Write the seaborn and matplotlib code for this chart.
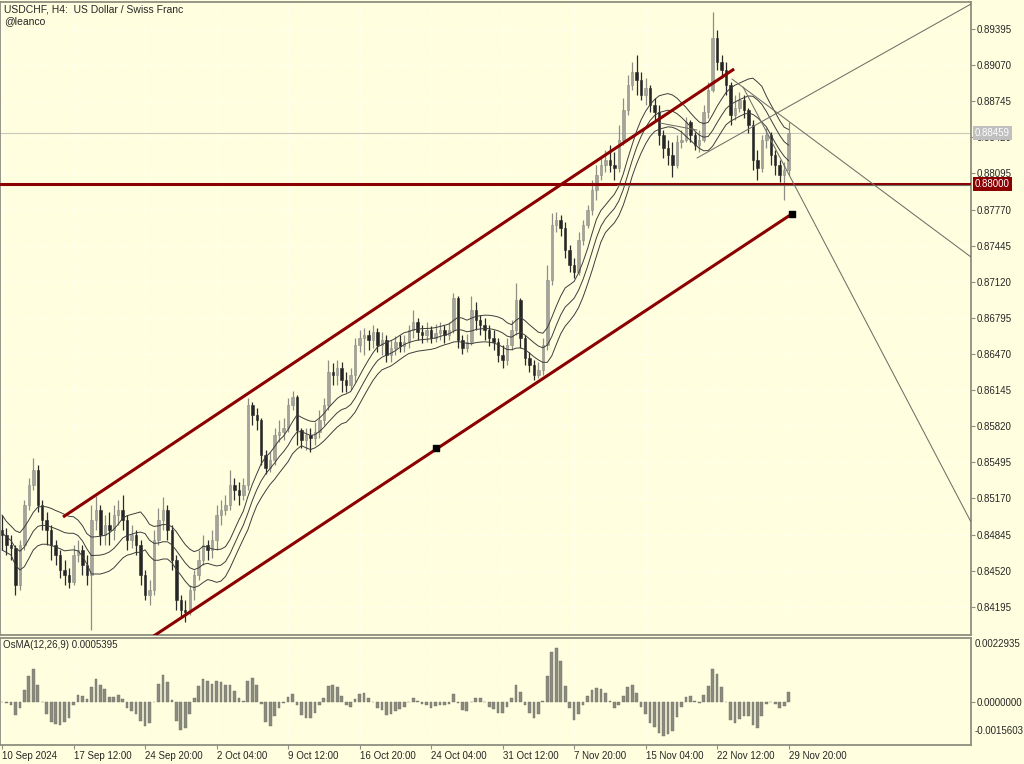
import numpy as np
import pandas as pd
import matplotlib
matplotlib.use("Agg")
import matplotlib.pyplot as plt
import seaborn as sns

# USDCHF H4, each bar below covers two H4 candles
first_open = 0.84886
close = [
    0.84841, 0.84751, 0.84724, 0.84391, 0.84751, 0.85111, 0.85291, 0.85426, 0.85111, 0.84976,
    0.84886, 0.84751, 0.84661, 0.84526, 0.84481, 0.84418, 0.84661, 0.84706, 0.84571, 0.84481,
    0.84976, 0.85066, 0.84841, 0.84931, 0.84886, 0.85021, 0.85066, 0.84976, 0.84796, 0.84841,
    0.84751, 0.84481, 0.84301, 0.84346, 0.84796, 0.84976, 0.85066, 0.84886, 0.84616, 0.84256,
    0.84166, 0.84148, 0.84346, 0.84481, 0.84616, 0.84751, 0.84706, 0.84796, 0.85021, 0.85066,
    0.85111, 0.85291, 0.85246, 0.85201, 0.85291, 0.86011, 0.85921, 0.85876, 0.85561, 0.85444,
    0.85516, 0.85741, 0.85768, 0.85804, 0.86011, 0.86083, 0.85786, 0.85696, 0.85741, 0.85714,
    0.85768, 0.85876, 0.86011, 0.86308, 0.86281, 0.86344, 0.86236, 0.86191, 0.86281, 0.86551,
    0.86614, 0.86641, 0.86596, 0.86668, 0.86551, 0.86596, 0.86461, 0.86524, 0.86578, 0.86542,
    0.86578, 0.86686, 0.86758, 0.86668, 0.86641, 0.86686, 0.86614, 0.86659, 0.86686, 0.86641,
    0.86686, 0.86974, 0.86596, 0.86524, 0.86578, 0.86866, 0.86776, 0.86731, 0.86686, 0.86614,
    0.86578, 0.86461, 0.86416, 0.86551, 0.86686, 0.86956, 0.86614, 0.86434, 0.86371, 0.86281,
    0.86326, 0.86551, 0.87136, 0.87631, 0.87676, 0.87604, 0.87406, 0.87271, 0.87208, 0.87496,
    0.87631, 0.87766, 0.87946, 0.88081, 0.88171, 0.88216, 0.88171, 0.88144, 0.88396, 0.88666,
    0.88891, 0.89008, 0.88936, 0.88801, 0.88864, 0.88711, 0.88648, 0.88441, 0.88324, 0.88261,
    0.88171, 0.88378, 0.88396, 0.88558, 0.88441, 0.88351, 0.88396, 0.88648, 0.88846, 0.89314,
    0.89098, 0.89026, 0.88891, 0.88621, 0.88684, 0.88756, 0.88666, 0.88531, 0.88216, 0.88144,
    0.88396, 0.88441, 0.88261, 0.88171, 0.88081, 0.88126, 0.88459,
]
high = [
    0.85021, 0.84904, 0.84841, 0.84751, 0.84796, 0.85156, 0.85354, 0.85534, 0.85471, 0.85156,
    0.85048, 0.84931, 0.84796, 0.84706, 0.84616, 0.84544, 0.84751, 0.84796, 0.84751, 0.84661,
    0.85111, 0.85192, 0.85111, 0.85021, 0.85048, 0.85111, 0.85156, 0.85201, 0.85021, 0.84931,
    0.84886, 0.84796, 0.84526, 0.84436, 0.84886, 0.85084, 0.85183, 0.85111, 0.84931, 0.84661,
    0.84301, 0.84256, 0.84391, 0.84526, 0.84706, 0.84841, 0.84796, 0.84886, 0.85111, 0.85156,
    0.85201, 0.85426, 0.85354, 0.85318, 0.85354, 0.86074, 0.86038, 0.85984, 0.85894, 0.85606,
    0.85588, 0.85804, 0.85876, 0.85894, 0.86074, 0.86137, 0.86101, 0.85804, 0.85804, 0.85804,
    0.85858, 0.85966, 0.86074, 0.86416, 0.86389, 0.86416, 0.86398, 0.86308, 0.86344, 0.86614,
    0.86686, 0.86704, 0.86686, 0.86731, 0.86704, 0.86668, 0.86641, 0.86596, 0.86632, 0.86641,
    0.86641, 0.86731, 0.86866, 0.86794, 0.86731, 0.86758, 0.86722, 0.86740, 0.86758, 0.86731,
    0.86758, 0.87019, 0.86992, 0.86641, 0.86650, 0.86992, 0.86938, 0.86821, 0.86794, 0.86731,
    0.86686, 0.86614, 0.86551, 0.86614, 0.86776, 0.87109, 0.86974, 0.86641, 0.86488, 0.86416,
    0.86398, 0.86614, 0.87271, 0.87739, 0.87748, 0.87721, 0.87658, 0.87451, 0.87334, 0.87568,
    0.87676, 0.87811, 0.88036, 0.88171, 0.88234, 0.88306, 0.88351, 0.88288, 0.88531, 0.88774,
    0.88981, 0.89098, 0.89161, 0.89008, 0.88954, 0.88891, 0.88774, 0.88711, 0.88486, 0.88396,
    0.88378, 0.88441, 0.88486, 0.88603, 0.88576, 0.88468, 0.88486, 0.88711, 0.88918, 0.89548,
    0.89386, 0.89161, 0.89098, 0.88918, 0.88801, 0.88828, 0.88801, 0.88684, 0.88576, 0.88306,
    0.88441, 0.88504, 0.88468, 0.88306, 0.88216, 0.88198, 0.88558,
]
low = [
    0.84706, 0.84661, 0.84616, 0.84301, 0.84346, 0.84706, 0.85066, 0.85246, 0.85048, 0.84886,
    0.84751, 0.84616, 0.84571, 0.84454, 0.84391, 0.84364, 0.84391, 0.84598, 0.84481, 0.84391,
    0.83986, 0.84886, 0.84751, 0.84751, 0.84751, 0.84796, 0.84931, 0.84886, 0.84706, 0.84724,
    0.84661, 0.84391, 0.84256, 0.84211, 0.84301, 0.84751, 0.84886, 0.84796, 0.84526, 0.84166,
    0.84094, 0.84058, 0.84121, 0.84256, 0.84436, 0.84571, 0.84616, 0.84634, 0.84706, 0.84931,
    0.85021, 0.85066, 0.85156, 0.85111, 0.85156, 0.85246, 0.85831, 0.85786, 0.85471, 0.85390,
    0.85408, 0.85471, 0.85678, 0.85696, 0.85768, 0.85966, 0.85651, 0.85624, 0.85606, 0.85588,
    0.85651, 0.85714, 0.85831, 0.85966, 0.86191, 0.86191, 0.86128, 0.86128, 0.86146, 0.86218,
    0.86488, 0.86461, 0.86506, 0.86524, 0.86488, 0.86461, 0.86398, 0.86398, 0.86461, 0.86488,
    0.86488, 0.86524, 0.86614, 0.86596, 0.86569, 0.86578, 0.86569, 0.86578, 0.86596, 0.86569,
    0.86596, 0.86659, 0.86524, 0.86470, 0.86488, 0.86551, 0.86686, 0.86641, 0.86596, 0.86542,
    0.86506, 0.86398, 0.86344, 0.86371, 0.86506, 0.86641, 0.86524, 0.86371, 0.86308, 0.86236,
    0.86254, 0.86281, 0.86506, 0.87091, 0.87568, 0.87532, 0.87334, 0.87208, 0.87154, 0.87181,
    0.87451, 0.87604, 0.87721, 0.87856, 0.88036, 0.88108, 0.88108, 0.88036, 0.88108, 0.88351,
    0.88621, 0.88846, 0.88801, 0.88756, 0.88711, 0.88648, 0.88576, 0.88351, 0.88234, 0.88171,
    0.88063, 0.88144, 0.88324, 0.88378, 0.88378, 0.88306, 0.88288, 0.88378, 0.88594, 0.88828,
    0.89026, 0.88954, 0.88801, 0.88531, 0.88576, 0.88648, 0.88594, 0.88459, 0.88126, 0.88036,
    0.88108, 0.88324, 0.88171, 0.88081, 0.88018, 0.87856, 0.88081,
]

date_labels = ["10 Sep 2024", "17 Sep 12:00", "24 Sep 20:00", "2 Oct 04:00", "9 Oct 12:00",
               "16 Oct 20:00", "24 Oct 04:00", "31 Oct 12:00", "7 Nov 20:00", "15 Nov 04:00",
               "22 Nov 12:00", "29 Nov 20:00"]
date_bars = [0, 16, 32, 48, 64, 80, 96, 112, 128, 144, 160, 176]
price_ticks = [0.89395, 0.89070, 0.88745, 0.88420, 0.88095, 0.87770, 0.87445, 0.87120,
               0.86795, 0.86470, 0.86145, 0.85820, 0.85495, 0.85170, 0.84845, 0.84520, 0.84195]

# drawn objects: (bar, price) end points
channel_top = [(13.65, 0.85003), (163.8, 0.89035)]
channel_bottom = [(33.6, 0.83923), (176.7, 0.87730)]
channel_handles = [(97.1, 0.85624), (176.7, 0.87730)]
level_line = 0.88000
last_price = 0.88459
thin_lines = [
    [(155.5, 0.88234), (216.8, 0.89620)],
    [(163.3, 0.88945), (216.8, 0.87343)],
    [(165.8, 0.88873), (216.8, 0.84958)],
    [(147.2, 0.88549), (155.5, 0.88486)],
    [(137.7, 0.87995), (216.8, 0.87995)],
]

BG = "#FFFFE0"
RED = "#8B0000"
GREY = "#6f6f66"

sns.set_style("white")
plt.rcParams["font.family"] = ["Liberation Sans", "DejaVu Sans"]

df = pd.DataFrame({"close": close, "high": high, "low": low})
df["open"] = df["close"].shift(1).fillna(first_open)
df["high"] = df[["high", "open", "close"]].max(axis=1)
df["low"] = df[["low", "open", "close"]].min(axis=1)
df["bar"] = np.arange(len(df))

# three smoothed lines on highs, medians and lows
df["ma_hi"] = df["high"].rolling(12, min_periods=1).mean()
df["ma_mid"] = ((df["high"] + df["low"]) / 2).rolling(12, min_periods=1).mean()
df["ma_lo"] = df["low"].rolling(12, min_periods=1).mean()

# OsMA(12,26,9) on H4 -> half the spans here since one bar = two H4 bars,
# signal is a simple average like MT4 does
macd = df["close"].ewm(span=6, adjust=False).mean() - df["close"].ewm(span=13, adjust=False).mean()
df["osma"] = macd - macd.rolling(5, min_periods=1).mean()

W, H = 1024, 764
fig = plt.figure(figsize=(W / 100, H / 100), dpi=100, facecolor=BG)
ax = fig.add_axes([0, (H - 635) / H, 971 / W, 633 / H], facecolor=BG)
oax = fig.add_axes([0, (H - 745) / H, 971 / W, 107 / H], facecolor=BG)

xlim = (-0.45, 216.8)
for a in (ax, oax):
    a.set_xlim(*xlim)
    a.set_xticks(date_bars)
    for s in a.spines.values():
        s.set_color("#8f8f80")
        s.set_linewidth(1.3)
    a.grid(True, axis="x", color="white", lw=0.8, ls=(0, (1, 2)))
ax.set_ylim(0.83941, 0.89638)
ax.grid(True, axis="y", color="white", lw=0.8, ls=(0, (1, 2)))

# candles
up = df["close"] >= df["open"]
wick_col = np.where(up, "#8e8e86", "#2b2b2b")
ax.vlines(df["bar"], df["low"], df["high"], colors=wick_col, lw=0.9, zorder=3)
body_lo = df[["open", "close"]].min(axis=1)
body_h = (df["close"] - df["open"]).abs().clip(lower=0.00003)
ax.bar(df["bar"], body_h, bottom=body_lo, width=0.55,
       color=np.where(up, "#a4a49c", "#262626"), edgecolor=wick_col, lw=0.4, zorder=4)

for col in ("ma_hi", "ma_mid", "ma_lo"):
    sns.lineplot(data=df, x="bar", y=col, ax=ax, color="#3c3c3c", lw=0.7, zorder=5)

# lines drawn on the chart
ax.axhline(last_price, color="#c8c8bc", lw=0.8, zorder=2)
ax.axhline(level_line, color=RED, lw=2.2, zorder=6)
for seg in thin_lines:
    xs, ys = zip(*seg)
    ax.plot(xs, ys, color=GREY, lw=0.75, zorder=6)
for seg in (channel_top, channel_bottom):
    xs, ys = zip(*seg)
    ax.plot(xs, ys, color=RED, lw=2.2, solid_capstyle="butt", zorder=7)
hx, hy = zip(*channel_handles)
ax.scatter(hx, hy, marker="s", s=18, color="black", zorder=8)

ax.set_xlabel("")
ax.set_ylabel("")
ax.yaxis.tick_right()
ax.set_yticks(price_ticks)
ax.set_yticklabels([f"{p:.5f}" for p in price_ticks])
ax.tick_params(axis="y", right=True, length=3, width=0.8, color="#8f8f80", pad=1, labelsize=7)
ax.tick_params(axis="x", bottom=False, labelbottom=False)

box = dict(boxstyle="square,pad=0.18", ec="none")
ax.text(1.004, last_price, f"{last_price:.5f}", transform=ax.get_yaxis_transform(), color="white",
        size=7, va="center", ha="left", bbox=dict(box, fc="#c0c0c0"), clip_on=False, zorder=10)
ax.text(1.004, level_line, f"{level_line:.5f}", transform=ax.get_yaxis_transform(), color="white",
        size=7, va="center", ha="left", bbox=dict(box, fc=RED), clip_on=False, zorder=10)

# OsMA panel
osma_top, osma_bot = 0.0022935, -0.0015603
oax.bar(df["bar"], df["osma"].clip(osma_bot, osma_top), width=0.6, color="#8a8a7e",
        edgecolor="#6e6e64", lw=0.3, zorder=3)
oax.set_ylim(osma_bot, osma_top)
oax.yaxis.tick_right()
oax.set_yticks([0.0])
oax.set_yticklabels(["0.0000000"])
oax.tick_params(axis="y", right=True, length=3, width=0.8, color="#8f8f80", pad=1, labelsize=7)
oax.set_xticklabels(date_labels)
oax.tick_params(axis="x", bottom=True, length=3, width=0.8, color="#8f8f80", pad=1, labelsize=7)
for t in oax.get_xticklabels():
    t.set_horizontalalignment("left")
oax.set_xlabel("")
oax.set_ylabel("")
fig.text(975 / W, 1 - 644 / H, "0.0022935", size=7, va="center", ha="left")
fig.text(975 / W, 1 - 731 / H, "-0.0015603", size=7, va="center", ha="left")
fig.text(3 / W, 1 - 645 / H, "OsMA(12,26,9) 0.0005395", size=7, va="center", ha="left")

fig.text(4 / W, 1 - 9 / H, "USDCHF, H4:  US Dollar / Swiss Franc", size=7.5, va="center", ha="left")
fig.text(4 / W, 1 - 21 / H, "@leanco", size=7.5, va="center", ha="left")

fig.savefig("out.png", dpi=100, facecolor=BG)
